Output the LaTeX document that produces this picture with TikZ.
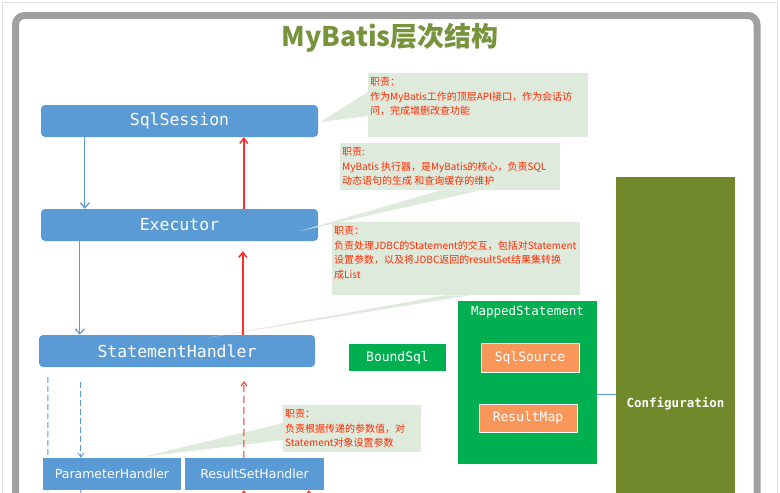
\documentclass[tikz,border=0pt]{standalone}
\usepackage{fontspec}
\usetikzlibrary{arrows.meta}
\newfontfamily\cjk{Noto Sans CJK SC}
\newfontfamily\mono{DejaVu Sans Mono}
\newfontfamily\hand{DejaVu Sans}
\definecolor{boxblue}{HTML}{5B9BD5}
\definecolor{arrowblue}{HTML}{5B9BD5}
\definecolor{arrowred}{HTML}{FF2A2A}
\definecolor{notefill}{HTML}{DEEADB}
\definecolor{notetext}{HTML}{FF2A00}
\definecolor{msgreen}{HTML}{00B050}
\definecolor{srcorange}{HTML}{F9975A}
\definecolor{cfgolive}{HTML}{71892A}
\definecolor{titlegreen}{HTML}{77933C}
\definecolor{framegray}{HTML}{A0A0A0}
\begin{document}
\begin{tikzpicture}[x=1pt,y=-1pt,
  layer/.style={fill=boxblue, rounded corners=4pt, text=white, inner sep=0pt, minimum height=32pt, font=\mono\fontsize{16.5}{18}\selectfont},
  handler/.style={fill=boxblue, text=white, inner sep=0pt, minimum height=32pt, font=\hand\fontsize{12.5}{14}\selectfont},
  greenbox/.style={fill=msgreen, text=white, inner sep=0pt, font=\mono\fontsize{13}{15}\selectfont},
  orangebox/.style={fill=srcorange, draw=white, line width=1pt, text=white, inner sep=0pt, font=\mono\fontsize{13}{15}\selectfont},
  note/.style={fill=notefill, inner sep=0pt, anchor=north west},
  notetxt/.style={anchor=north west, inner sep=0pt, text=notetext, align=left, font=\cjk\fontsize{10}{14.5}\selectfont},
  upblue/.style={draw=arrowblue, line width=1.3pt, -{Straight Barb[length=5pt,width=9pt]}},
  upred/.style={draw=arrowred, line width=1.5pt, -{Straight Barb[length=5pt,width=8pt]}},
  dashblue/.style={draw=arrowblue, line width=0.9pt, dash pattern=on 6pt off 3pt},
  dashred/.style={draw=arrowred, line width=1pt, dash pattern=on 7pt off 4pt}
]
\useasboundingbox (0,0) rectangle (780,493);
% frame
\draw[gray!25, line width=0.8pt] (2,2) rectangle (777,530);
\draw[framegray, line width=7pt, rounded corners=9pt] (15.5,15.5) rectangle (757,560);

% title
\node[text=titlegreen, font=\cjk\bfseries\fontsize{27}{30}\selectfont, inner sep=0pt] (title) at (390,38) {MyBatis层次结构};

% layer boxes
\node[layer, minimum width=277pt] (sqlsession) at (179.5,121) {SqlSession};
\node[layer, minimum width=277pt] (executor) at (179.5,225) {Executor};
\node[layer, minimum width=276pt] (sh) at (177,351) {StatementHandler};
\node[handler, minimum width=138pt] (ph) at (112,474) {ParameterHandler};
\node[handler, minimum width=139pt] (rsh) at (254.5,474) {ResultSetHandler};

% green / orange / olive
\node[greenbox, minimum width=97pt, minimum height=27pt] (boundsql) at (397.5,357.5) {BoundSql};
\node[greenbox, minimum width=139pt, minimum height=163pt] (ms) at (527.5,382.5) {};
\node[anchor=north, text=white, inner sep=0pt, font=\mono\fontsize{12.5}{14}\selectfont] (mslabel) at ([yshift=-5pt]ms.north) {MappedStatement};
\node[orangebox, minimum width=98pt, minimum height=29pt] (sqlsource) at (530,357.5) {SqlSource};
\node[orangebox, minimum width=98pt, minimum height=28pt] (resultmap) at (528,418) {ResultMap};
\node[fill=cfgolive, minimum width=119pt, minimum height=454pt, inner sep=0pt, text=white, font=\mono\bfseries\fontsize{12.5}{14}\selectfont] (config) at (675.5,404) {Configuration};
\draw[arrowblue, line width=0.8pt] ([yshift=-11.5pt]ms.east) -- ([yshift=-11.5pt]ms.east -| config.west);

% notes
\node[note, minimum width=220pt, minimum height=64pt] (n1) at (368,73) {};
\fill[notefill] ([yshift=-19pt]n1.north west) -- ([xshift=2pt,yshift=-1pt]sqlsession.east) -- ([yshift=-43pt]n1.north west) -- cycle;
\node[notetxt] (t1) at ([xshift=2pt,yshift=-4pt]n1.north west) {职责：\\作为MyBatis工作的顶层API接口，作为会话访\\问，完成增删改查功能};

\node[note, minimum width=220pt, minimum height=47pt] (n2) at (340,143) {};
\fill[notefill] ([xshift=100pt]n2.south west) -- ([xshift=-18pt,yshift=-6pt]executor.east) -- ([xshift=140pt]n2.south west) -- cycle;
\node[notetxt] (t2) at ([xshift=2pt,yshift=-4pt]n2.north west) {职责:\\MyBatis 执行器，是MyBatis的核心，负责SQL\\动态语句的生成 和查询缓存的维护};

\node[note, minimum width=248pt, minimum height=73pt] (n3) at (332,222) {};
\fill[notefill] ([xshift=113pt]n3.south west) -- ([xshift=30pt,yshift=-3pt]sh.north) -- ([xshift=138pt]n3.south west) -- cycle;
\node[notetxt] (t3) at ([xshift=2pt,yshift=-4pt]n3.north west) {职责：\\负责处理JDBC的Statement的交互，包括对Statement\\设置参数，以及将JDBC返回的resultSet结果集转换\\成List};

\node[note, minimum width=138pt, minimum height=47pt] (n4) at (283,405) {};
\fill[notefill] ([yshift=-18pt]n4.north west) -- ([xshift=100pt,yshift=1pt]ph.north west) -- ([yshift=-35pt]n4.north west) -- cycle;
\node[notetxt] (t4) at ([xshift=2pt,yshift=-4pt]n4.north west) {职责：\\负责根据传递的参数值，对\\Statement对象设置参数};

% arrows between layers
\draw[upblue] ([xshift=44pt]sqlsession.south west) -- ([xshift=44pt]executor.north west);
\draw[upred] ([xshift=203pt]executor.north west) -- ([xshift=203pt]sqlsession.south west);
\draw[upblue] ([xshift=39pt]executor.south west) -- ([xshift=41pt]sh.north west);
\draw[upred, shorten >=10pt] ([xshift=204pt]sh.north west) -- ([xshift=202pt]executor.south west);

% dashed lines
\coordinate (b1) at (48,510);
\draw[dashblue] ([xshift=9pt,yshift=-10pt]sh.south west) -- (b1);
\draw[dashblue, -{Straight Barb[length=4pt,width=6pt]}] ([xshift=42pt,yshift=-15pt]sh.south west) -- ([xshift=38pt]ph.north west);
\coordinate (b2) at (81,510);
\draw[dashblue] ([xshift=38pt]ph.south west) -- (b2);
\draw[dashred, -{Straight Barb[length=4pt,width=6pt]}] ([xshift=59pt]rsh.north west) -- ([xshift=67pt,yshift=-14pt]sh.south);
\coordinate (r1) at (244,515);
\coordinate (r2) at (309,515);
\draw[dashred, -{Straight Barb[length=4pt,width=6pt]}] (r1) -- ([xshift=59pt]rsh.south west);
\draw[dashred, -{Straight Barb[length=4pt,width=6pt]}] (r2) -- ([xshift=124pt]rsh.south west);
\end{tikzpicture}
\end{document}
